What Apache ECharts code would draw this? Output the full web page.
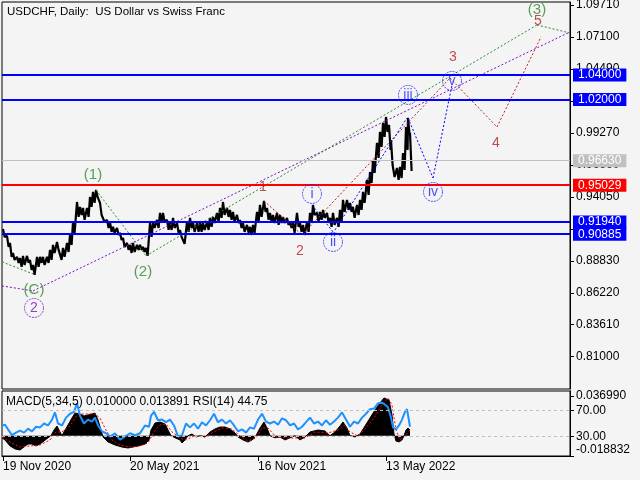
<!DOCTYPE html>
<html><head><meta charset="utf-8">
<script src="https://cdn.jsdelivr.net/npm/echarts@6/dist/echarts.min.js"></script>
<style>html,body{margin:0;padding:0;background:#F4F4F4}#c{width:640px;height:480px}</style>
</head><body><div id="c"></div><script>
const titleText = 'USDCHF, Daily:  US Dollar vs Swiss Franc';
const subTitleText = 'MACD(5,34,5) 0.010000 0.013891 RSI(14) 44.75';
const dateTickIdx = [1, 128, 256, 384];
const dateLabels = ['19 Nov 2020', '20 May 2021', '16 Nov 2021', '13 May 2022'];
const priceTicks = [1.0971, 1.0710, 1.0449, 1.0188, 0.9927, 0.9666, 0.9405, 0.9144, 0.8883, 0.8622, 0.8361, 0.8100];
const rsiTicks = [70, 30];
const macdTicks = [0.03699, -0.018832];

// [bar index, high, low]
const bars = [
[1,0.9143,0.9078],[5,0.9086,0.8996],[8,0.9029,0.8915],[11,0.8947,0.8890],[15,0.8915,0.8866],[18,0.8906,0.8833],
[21,0.8923,0.8849],[25,0.8923,0.8866],[28,0.8890,0.8809],[31,0.8849,0.8768],[35,0.8915,0.8833],[38,0.8915,0.8866],
[41,0.8915,0.8849],[45,0.8915,0.8866],[48,0.8972,0.8890],[51,0.9013,0.8947],[55,0.9037,0.8972],[58,0.8972,0.8890],
[61,0.8988,0.8915],[65,0.9029,0.8955],[68,0.9094,0.9013],[71,0.9200,0.9111],[75,0.9363,0.9241],[78,0.9323,0.9257],
[81,0.9315,0.9217],[85,0.9315,0.9241],[88,0.9404,0.9323],[91,0.9445,0.9355],[94,0.9461,0.9404],[98,0.9355,0.9257],
[101,0.9257,0.9200],[105,0.9217,0.9151],[108,0.9200,0.9119],[111,0.9160,0.9111],[115,0.9151,0.9094],[118,0.9111,0.9053],
[121,0.9070,0.8996],[125,0.9029,0.8972],[128,0.9013,0.8947],[131,0.9029,0.8955],[135,0.9013,0.8972],[138,0.9013,0.8972],
[141,0.8996,0.8955],[144,0.8988,0.8923],[148,0.9192,0.9078],[151,0.9200,0.9151],[155,0.9217,0.9151],[158,0.9274,0.9192],
[161,0.9274,0.9200],[165,0.9217,0.9135],[168,0.9200,0.9135],[171,0.9233,0.9151],[175,0.9192,0.9111],[178,0.9135,0.9078],
[181,0.9094,0.9021],[185,0.9200,0.9119],[188,0.9233,0.9151],[191,0.9200,0.9119],[195,0.9192,0.9119],[198,0.9200,0.9119],
[201,0.9192,0.9135],[205,0.9200,0.9135],[208,0.9233,0.9160],[211,0.9241,0.9192],[215,0.9274,0.9200],[218,0.9315,0.9233],
[221,0.9363,0.9257],[225,0.9315,0.9241],[228,0.9298,0.9217],[231,0.9282,0.9200],[235,0.9257,0.9192],[238,0.9217,0.9151],
[241,0.9192,0.9119],[245,0.9176,0.9111],[248,0.9160,0.9094],[251,0.9176,0.9111],[255,0.9282,0.9200],[258,0.9339,0.9241],
[262,0.9372,0.9282],[265,0.9315,0.9217],[268,0.9274,0.9200],[271,0.9257,0.9192],[275,0.9274,0.9176],[278,0.9257,0.9192],
[281,0.9241,0.9192],[285,0.9233,0.9176],[288,0.9200,0.9151],[291,0.9192,0.9111],[295,0.9274,0.9160],[298,0.9192,0.9119],
[301,0.9176,0.9094],[305,0.9200,0.9119],[308,0.9274,0.9192],[311,0.9339,0.9257],[315,0.9274,0.9200],[318,0.9282,0.9217],
[321,0.9298,0.9233],[325,0.9274,0.9192],[328,0.9233,0.9160],[331,0.9274,0.9176],[335,0.9233,0.9160],[338,0.9298,0.9192],
[341,0.9380,0.9282],[345,0.9380,0.9298],[348,0.9355,0.9282],[351,0.9323,0.9233],[355,0.9339,0.9257],[358,0.9380,0.9298],
[361,0.9445,0.9355],[365,0.9543,0.9421],[368,0.9608,0.9518],[371,0.9706,0.9600],[375,0.9845,0.9722],[378,0.9935,0.9812],
[381,1.0008,0.9894],[384,1.0057,0.9935],[387,0.9992,0.9788],[389,0.9869,0.9665],[391,0.9665,0.9567],[395,0.9641,0.9543],
[398,0.9649,0.9559],[401,0.9763,0.9625],[404,0.9975,0.9788],[406,1.0049,0.9910],[408,0.9927,0.9616]
];

// [bar index, value]
const macdHist = [
[0,-0.002],[3,-0.004],[8,-0.0096],[13,-0.0124],[18,-0.0134],[22,-0.0106],[26,-0.0078],[30,-0.0078],[34,-0.0096],[38,-0.0078],
[42,-0.005],[46,-0.002],[49,0],[52,0.0053],[55,0.009],[58,0.0035],[60,0],[63,0.0053],[66,0.010],[70,0.0166],[73,0.0212],
[75,0.023],[78,0.0203],[82,0.0184],[86,0.0194],[90,0.0203],[93,0.0212],[96,0.0147],[99,0.0053],[101,-0.0012],[106,-0.0059],
[113,-0.0087],[120,-0.0106],[126,-0.0115],[131,-0.0106],[136,-0.0096],[143,-0.0078],[147,-0.004],[149,0.0053],[153,0.0119],
[158,0.0128],[163,0.011],[166,0.0053],[169,0],[173,-0.002],[178,-0.004],[180,-0.0068],[183,-0.004],[186,0],[190,0.0016],
[194,-0.0012],[198,0],[203,-0.0012],[208,0.0035],[213,0.0063],[218,0.0081],[223,0.0081],[228,0.0063],[233,0.0025],
[236,-0.0012],[241,-0.004],[246,-0.0059],[250,-0.004],[254,0],[258,0.0072],[262,0.0128],[265,0.0072],[268,0],[273,-0.002],
[278,-0.0012],[283,-0.004],[288,-0.002],[293,0],[298,-0.004],[303,-0.0012],[308,0.0035],[316,0.0053],[323,0.0044],[328,0],
[333,0.0035],[338,0.009],[341,0.0128],[345,0.0072],[348,0],[353,-0.0012],[358,0.0016],[363,0.009],[368,0.0166],[373,0.024],
[378,0.0306],[382,0.0353],[384,0.0362],[387,0.0334],[390,0.0194],[392,0.0016],[394,-0.005],[397,-0.0059],[400,-0.004],
[402,0],[404,0.0053],[406,0.0072],[408,0.0053]
];
const macdSignal = [
[0,-0.0012],[8,-0.0059],[18,-0.0106],[28,-0.0096],[38,-0.0087],[48,-0.004],[54,0.0035],[60,0.0035],[68,0.0091],[76,0.0203],
[84,0.0203],[93,0.0203],[98,0.0165],[104,0.0053],[110,-0.004],[118,-0.0087],[128,-0.0106],[138,-0.0096],[146,-0.0068],[152,0.0035],
[158,0.01],[164,0.0109],[170,0.0035],[178,-0.0022],[184,-0.004],[192,-0.0003],[203,-0.0012],[210,0.0025],[220,0.0072],[230,0.0063],
[238,-0.0003],[246,-0.005],[254,-0.0022],[260,0.0072],[266,0.0072],[274,-0.0012],[288,-0.0022],[303,-0.0022],[313,0.0035],[326,0.0025],
[336,0.0053],[342,0.01],[348,0.0035],[356,-0.0003],[364,0.0072],[372,0.0165],[380,0.0287],[386,0.0352],[390,0.0287],[394,0.0053],
[398,-0.004],[403,-0.0003],[408,0.0053]
];
const rsi = [
[0,47],[3,48],[6,41],[10,32],[14,36],[18,39],[22,36],[26,42],[30,38],[34,45],[38,44],[42,50],[46,47],[50,56],[53,67],[56,50],
[60,47],[64,59],[68,65],[72,68],[75,81],[78,62],[82,50],[86,56],[90,53],[93,59],[96,47],[100,38],[104,35],[108,30],[113,35],
[118,25],[123,30],[128,35],[133,32],[138,35],[143,47],[147,45],[149,62],[152,68],[156,55],[160,56],[164,52],[168,56],[172,47],
[176,30],[180,32],[184,50],[188,44],[192,50],[196,42],[200,52],[204,47],[208,55],[212,65],[216,52],[220,56],[224,50],[228,55],
[232,47],[236,38],[240,41],[244,36],[248,44],[252,42],[256,56],[260,65],[264,53],[268,50],[272,53],[276,48],[280,58],[284,55],
[288,47],[292,50],[296,41],[300,45],[304,52],[308,59],[312,50],[316,53],[320,47],[324,55],[328,48],[332,53],[336,59],[340,67],
[344,56],[348,45],[352,53],[356,50],[360,59],[364,65],[368,72],[372,73],[376,81],[380,82],[383,79],[386,75],[389,59],[391,44],
[394,41],[397,47],[400,56],[403,68],[405,72],[408,45]
];

// horizontal levels
const levels = [1.04000, 1.02000, 0.96630, 0.95029, 0.91940, 0.90885];
const levelNames = ['1.04000', '1.02000', '0.96630', '0.95029', '0.91940', '0.90885'];
const levelColors = ['#0000FF', '#0000FF', '#C0C0C0', '#FF0000', '#0000FF', '#0000FF'];
const levelWidths = [2, 2, 1, 2, 2, 2];

// wave trend segments [[idx, price],[idx, price]]
const purpleSegs = [[[0,0.8678],[31,0.8637]], [[31,0.8637],[568,1.0751]]];
const greenSegs = [[[0,0.8874],[31,0.8776]], [[94,0.9461],[144,0.8923]], [[144,0.8923],[535,1.0808]], [[535,1.0808],[568,1.0742]]];
const redSegs = [[[262,0.9372],[300,0.9094]], [[300,0.9094],[448,1.0375]], [[448,1.0375],[495,0.9975]], [[495,0.9975],[539,1.0710]]];
const blueSegs = [[[310,0.9339],[331,0.9119]], [[333,0.9135],[405,1.0049]], [[406,1.0049],[431,0.9559]], [[431,0.9559],[450,1.0318]]];

// wave labels [text, idx, price]
const greenLabels = [['(C)',32,0.8645], ['(1)',91,0.9584], ['(2)',141,0.8792], ['(3)',535,1.0930]];
const redLabels = [['1',261,0.9486], ['2',298,0.8963], ['3',451,1.0547], ['4',494,0.9845], ['5',536,1.0840]];
const blueCircled = [['i',310,0.9429], ['ii',331,0.9037], ['iii',406,1.0237], ['iv',431,0.9445], ['v',450,1.0351]];
const purpleCircled = [['2',32,0.8498]];

const FONT = 'Liberation Sans';
const zig = [];
bars.forEach(b => { zig.push([b[0], b[1]]); zig.push([b[0] + 1.6, b[2]]); });

const segSeries = (segs, color) => segs.map(s => ({
  type: 'line', xAxisIndex: 0, yAxisIndex: 0, data: s, symbol: 'none', silent: true, z: 3,
  lineStyle: { color: color, width: 1, type: [2, 2] }
}));
const labelSeries = (arr, color, size, circled) => ({
  type: 'scatter', xAxisIndex: 0, yAxisIndex: 0, z: 6, silent: true,
  data: arr.map(a => ({ name: a[0], value: [a[1], a[2]] })),
  symbol: 'circle', symbolSize: circled ? 19 : 1,
  itemStyle: { color: 'rgba(0,0,0,0)', borderColor: circled ? color : 'rgba(0,0,0,0)', borderWidth: 1, borderType: [2, 1] },
  label: { show: true, position: 'inside', formatter: '{b}', color: color, fontSize: size, fontFamily: FONT }
});

const axisFont = { color: '#000', fontSize: 12, fontFamily: FONT };
const option = {
  backgroundColor: '#F4F4F4',
  animation: false,
  title: [
    { text: titleText, left: 7, top: 6, padding: 0, textStyle: { fontSize: 11.5, fontWeight: 'normal', fontFamily: FONT, color: '#000' } },
    { text: subTitleText, left: 6, top: 396, padding: 0, textStyle: { fontSize: 12, fontWeight: 'normal', fontFamily: FONT, color: '#000' } }
  ],
  grid: [
    { left: 2, top: 2, width: 568, height: 387, show: true, borderColor: '#000', borderWidth: 1, backgroundColor: 'transparent', outerBoundsMode: 'none' },
    { left: 2, top: 391, width: 568, height: 65, show: true, borderColor: '#000', borderWidth: 1, backgroundColor: 'transparent', outerBoundsMode: 'none' }
  ],
  xAxis: [
    { type: 'value', gridIndex: 0, min: 0, max: 568, show: false },
    { type: 'value', gridIndex: 1, min: 0, max: 568, splitLine: { show: false },
      axisLine: { show: true, onZero: false, lineStyle: { color: '#000' } },
      axisTick: { show: true, customValues: dateTickIdx, length: 5, lineStyle: { color: '#000' } },
      axisLabel: Object.assign({ customValues: dateTickIdx, align: 'left', margin: 5,
        formatter: v => dateLabels[dateTickIdx.indexOf(v)] }, axisFont) }
  ],
  yAxis: [
    { type: 'value', gridIndex: 0, position: 'right', min: 0.78363, max: 1.09955, splitLine: { show: false },
      axisLine: { show: true, onZero: false, lineStyle: { color: '#000' } },
      axisTick: { show: true, customValues: priceTicks, length: 4, lineStyle: { color: '#000' } },
      axisLabel: Object.assign({ customValues: priceTicks, margin: 6, formatter: v => v.toFixed(5) }, axisFont) },
    { type: 'value', gridIndex: 1, position: 'right', min: 0, max: 100, splitLine: { show: false },
      axisLine: { show: true, onZero: false, lineStyle: { color: '#000' } },
      axisTick: { show: true, customValues: rsiTicks, length: 4, lineStyle: { color: '#000' } },
      axisLabel: Object.assign({ customValues: rsiTicks, margin: 6, formatter: v => v.toFixed(2) }, axisFont) },
    { type: 'value', gridIndex: 1, position: 'right', min: -0.019, max: 0.0418, splitLine: { show: false },
      axisLine: { show: true, onZero: false, lineStyle: { color: '#000' } },
      axisTick: { show: true, customValues: macdTicks, length: 4, lineStyle: { color: '#000' } },
      axisLabel: Object.assign({ customValues: macdTicks, margin: 6,
        formatter: v => v < 0 ? '{lo|' + v.toFixed(6) + '}' : v.toFixed(6),
        rich: { lo: { padding: [0, 0, 12, 0], fontSize: 12, fontFamily: FONT, color: '#000' } } }, axisFont) }
  ],
  series: [
    { type: 'line', xAxisIndex: 0, yAxisIndex: 0, data: zig, symbol: 'none', z: 2, silent: true,
      lineStyle: { color: '#000', width: 2.2 } },
    ...segSeries(purpleSegs, '#7A10C0'),
    ...segSeries(greenSegs, '#2E8B2E'),
    ...segSeries(redSegs, '#B22222'),
    ...segSeries(blueSegs, '#0000FF'),
    { type: 'line', xAxisIndex: 0, yAxisIndex: 0, data: [], z: 5, silent: true,
      markLine: { symbol: ['none', 'none'], silent: true, animation: false,
        data: levels.map((v, i) => ({ yAxis: v,
          lineStyle: { color: levelColors[i], width: levelWidths[i], type: 'solid' },
          label: { show: true, position: 'end', distance: 3, formatter: levelNames[i], color: '#FFFFFF',
            backgroundColor: levelColors[i], padding: [1, 5, 0, 5], fontSize: 12, fontFamily: FONT } })) } },
    labelSeries(greenLabels, '#2E8B2E', 15, false),
    labelSeries(redLabels, '#B22222', 14, false),
    labelSeries(blueCircled, '#2222FF', 14, true),
    labelSeries(purpleCircled, '#7A10C0', 14, true),
    { type: 'line', xAxisIndex: 1, yAxisIndex: 1, data: [], silent: true, z: 1,
      markLine: { symbol: ['none', 'none'], silent: true, label: { show: false },
        data: rsiTicks.map(v => ({ yAxis: v })), lineStyle: { color: '#C0C0C0', width: 1, type: [3, 3] } } },
    { type: 'line', xAxisIndex: 1, yAxisIndex: 2, data: macdHist, symbol: 'none', silent: true, z: 2,
      lineStyle: { color: '#000', width: 1 }, areaStyle: { color: '#000', opacity: 1, origin: 0 } },
    { type: 'line', xAxisIndex: 1, yAxisIndex: 2, data: macdSignal, symbol: 'none', silent: true, z: 3,
      lineStyle: { color: '#FF0000', width: 1, type: [2, 2] } },
    { type: 'line', xAxisIndex: 1, yAxisIndex: 1, data: rsi, symbol: 'none', silent: true, z: 4,
      lineStyle: { color: '#1E90FF', width: 2 } }
  ]
};
const chart = echarts.init(document.getElementById('c'), null, { renderer: 'canvas' });
chart.setOption(option);
</script></body></html>
